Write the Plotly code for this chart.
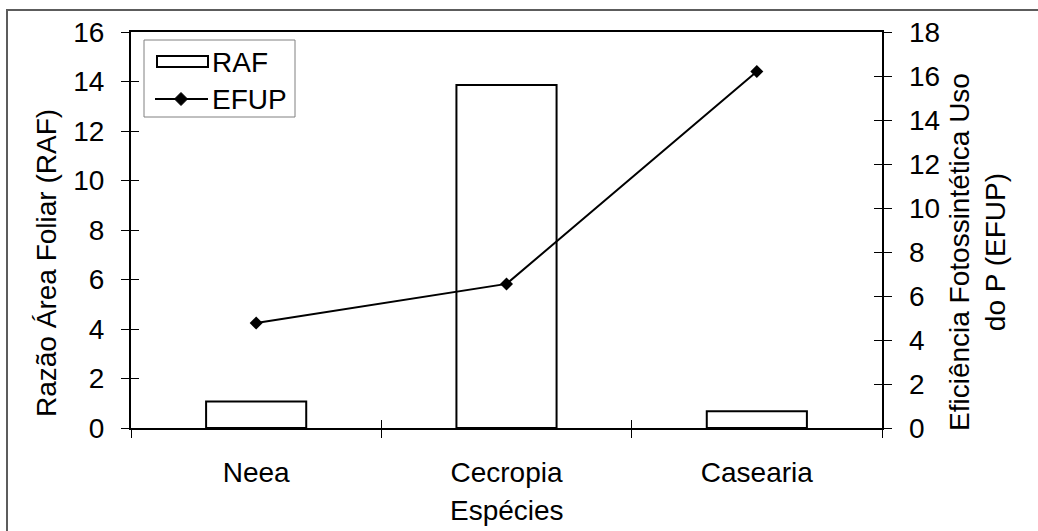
import plotly.graph_objects as go

species = ["Neea", "Cecropia", "Casearia"]
raf = [1.07, 13.86, 0.68]
efup = [4.77, 6.55, 16.2]
left_ticks = list(range(0, 17, 2))
right_ticks = list(range(0, 19, 2))

W, H = 1038, 531
L, R, T, B = 131, 156, 32, 103
PW, PH = W - L - R, H - T - B
FONT = "Liberation Sans, Arial, sans-serif"
FS = 28


def px(x):
    return (x - L) / PW


def py(y):
    return (H - B - y) / PH


fig = go.Figure()
fig.add_trace(go.Bar(x=species, y=raf, width=0.4, name="RAF",
                     marker=dict(color="white", line=dict(color="black", width=2)),
                     showlegend=False))
fig.add_trace(go.Scatter(x=species, y=efup, yaxis="y2", name="EFUP", mode="lines+markers",
                         line=dict(color="black", width=2),
                         marker=dict(symbol="diamond", size=10, color="black"),
                         showlegend=False))
# dummy traces so that the helper overlay axes are drawn
fig.add_trace(go.Scatter(x=[0], y=[0], xaxis="x2", yaxis="y", mode="markers",
                         marker=dict(opacity=0), hoverinfo="skip", showlegend=False))
for ya in ["y3", "y4", "y5"]:
    fig.add_trace(go.Scatter(x=species[:1], y=[0], yaxis=ya, mode="markers",
                             marker=dict(opacity=0), hoverinfo="skip", showlegend=False))

tickfont = dict(family=FONT, size=FS, color="black")
fig.update_layout(
    width=W, height=H,
    margin=dict(l=L, r=R, t=T, b=B),
    paper_bgcolor="white", plot_bgcolor="white",
    font=dict(family=FONT, size=FS, color="black"),
    xaxis=dict(type="category", range=[-0.5, 2.5], tickson="boundaries",
               ticks="outside", ticklen=8, tickwidth=1, tickcolor="black",
               showline=True, linewidth=2, linecolor="black", mirror=True,
               showgrid=False, zeroline=False, tickfont=tickfont,
               ticklabelstandoff=18),
    xaxis2=dict(overlaying="x", anchor="y", range=[-0.5, 2.5], side="bottom",
                tickvals=[-0.5, 0.5, 1.5, 2.5], ticks="inside", ticklen=8, tickwidth=1,
                tickcolor="black", showticklabels=False, showline=False,
                showgrid=False, zeroline=False),
    yaxis=dict(range=[0, 16], tickvals=left_ticks, ticks="outside", ticklen=8,
               tickwidth=1, tickcolor="black", showline=True, linewidth=2,
               linecolor="black", showgrid=False, zeroline=False, tickfont=tickfont,
               ticklabelstandoff=11),
    yaxis2=dict(range=[0, 18], tickvals=right_ticks, overlaying="y", side="right",
                anchor="x", ticks="outside", ticklen=8, tickwidth=1, tickcolor="black",
                showline=True, linewidth=2, linecolor="black", showgrid=False,
                zeroline=False, showticklabels=False),
    yaxis3=dict(range=[0, 16], tickvals=left_ticks, overlaying="y", side="left",
                anchor="x", ticks="inside", ticklen=8, tickwidth=1, tickcolor="black",
                showticklabels=False, showline=False, showgrid=False, zeroline=False),
    yaxis4=dict(range=[0, 18], tickvals=right_ticks, overlaying="y", side="right",
                anchor="x", ticks="inside", ticklen=8, tickwidth=1, tickcolor="black",
                showticklabels=False, showline=False, showgrid=False, zeroline=False),
    yaxis5=dict(range=[0, 18], tickvals=right_ticks, overlaying="y", side="right",
                anchor="free", position=1, shift=26, ticks="", showline=False,
                showgrid=False, zeroline=False, tickfont=tickfont),
)

shapes = []
# outer chart border (right/bottom outside the image)
shapes.append(dict(type="rect", xref="paper", yref="paper",
                   x0=px(7), x1=px(W + 5), y0=py(H + 5), y1=py(10),
                   line=dict(color="#5c5c5c", width=2), fillcolor="rgba(0,0,0,0)", layer="below"))
# legend box
shapes.append(dict(type="rect", xref="paper", yref="paper",
                   x0=px(144), x1=px(295), y0=py(117), y1=py(40),
                   line=dict(color="#808080", width=1), fillcolor="white"))
# RAF symbol
shapes.append(dict(type="rect", xref="paper", yref="paper",
                   x0=px(157), x1=px(208), y0=py(67), y1=py(56),
                   line=dict(color="black", width=2), fillcolor="white"))
# EFUP symbol line
shapes.append(dict(type="line", xref="paper", yref="paper",
                   x0=px(155), x1=px(208), y0=py(99), y1=py(99),
                   line=dict(color="black", width=2)))
cx, cy, r = 181, 99, 6.5
path = "M{},{} L{},{} L{},{} L{},{} Z".format(px(cx), py(cy - r), px(cx + r), py(cy),
                                             px(cx), py(cy + r), px(cx - r), py(cy))
shapes.append(dict(type="path", xref="paper", yref="paper", path=path,
                   fillcolor="black", line=dict(color="black", width=1)))
fig.update_layout(shapes=shapes)

ann = []
ann.append(dict(text="RAF", xref="paper", yref="paper", x=px(210), y=py(62),
                xanchor="left", yanchor="middle", showarrow=False,
                font=dict(family=FONT, size=FS, color="black")))
ann.append(dict(text="EFUP", xref="paper", yref="paper", x=px(210), y=py(99),
                xanchor="left", yanchor="middle", showarrow=False,
                font=dict(family=FONT, size=FS, color="black")))
ann.append(dict(text="Razão Área Foliar (RAF)", xref="paper", yref="paper",
                x=px(46), y=py(263), textangle=-90, xanchor="center", yanchor="middle",
                showarrow=False, font=dict(family=FONT, size=FS, color="black")))
ann.append(dict(text="Eficiência Fotossintética Uso<br>do P (EFUP)", xref="paper", yref="paper",
                x=px(977), y=py(252), textangle=-90, xanchor="center", yanchor="middle",
                showarrow=False, font=dict(family=FONT, size=FS, color="black")))
ann.append(dict(text="Espécies", xref="paper", yref="paper",
                x=px(507), y=py(510), xanchor="center", yanchor="middle",
                showarrow=False, font=dict(family=FONT, size=FS, color="black")))
fig.update_layout(annotations=ann)

fig.write_html("out.html", config={"displayModeBar": False},
               post_script="document.body.style.margin='0px';")
